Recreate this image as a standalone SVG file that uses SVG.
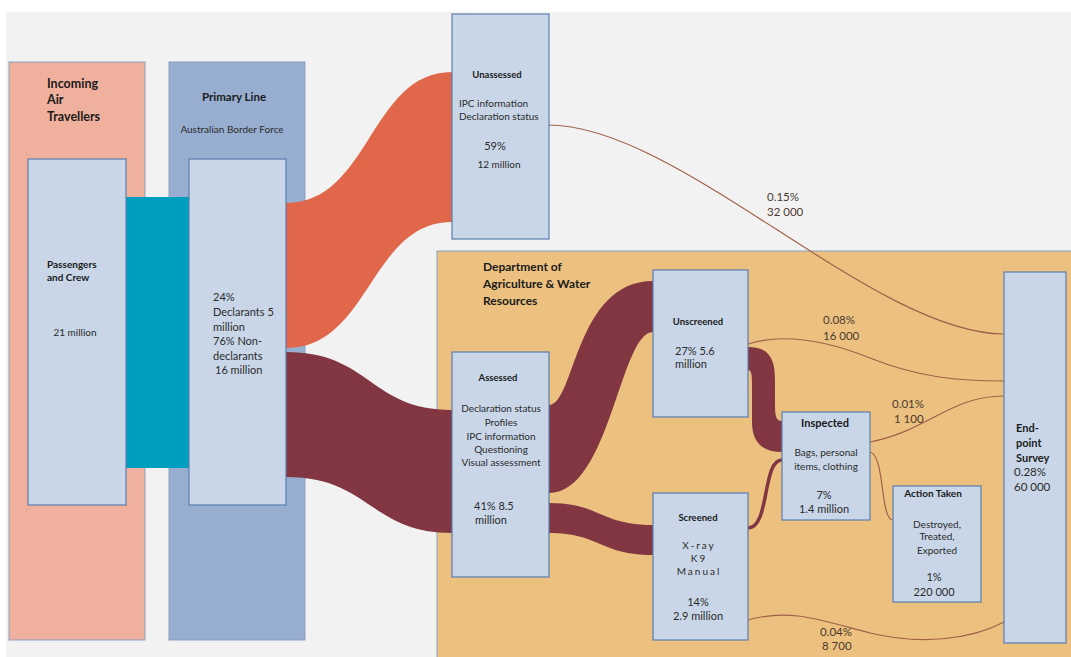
<svg xmlns="http://www.w3.org/2000/svg" width="1071" height="657" viewBox="0 0 1071 657">
<defs>
<style>
text{font-family:Lato,"Open Sans","Liberation Sans",sans-serif;fill:#2b2b2b;font-size:10px}
.b{font-weight:bold;fill:#1a1a1a}
.c{text-anchor:middle}
.box{fill:#c8d6e8;stroke:#5b7db0;stroke-width:1.2}
.cont{stroke:#8a9fc2;stroke-width:1}
.thin{fill:none;stroke:#a0604a;stroke-width:1.2}
.lbl{font-size:11.5px;fill:#4a3a30}
</style>
</defs>
<rect x="0" y="0" width="1071" height="657" fill="#ffffff"/>
<rect x="6" y="12" width="1065" height="645" fill="#f2f2f2"/>

<g id="incoming-air-travellers">
<rect class="cont" x="9" y="62" width="136" height="578" fill="#f0b09e"/>
<text class="b" x="47" y="88" style="font-size:12.5px">Incoming</text>
<text class="b" x="47" y="104" style="font-size:12.5px">Air</text>
<text class="b" x="47" y="121" style="font-size:12.5px">Travellers</text>
</g>

<g id="primary-line">
<rect class="cont" x="169" y="62" width="136" height="578" fill="#97aed0"/>
<text class="b c" x="234" y="101" style="font-size:11.5px">Primary Line</text>
<text class="c" x="232" y="133">Australian Border Force</text>
</g>

<g id="dept-agriculture">
<rect class="cont" x="437" y="251" width="640" height="410" fill="#ecc17f"/>
<text class="b" x="483" y="271" style="font-size:12px">Department of</text>
<text class="b" x="483" y="288" style="font-size:12px">Agriculture &amp; Water</text>
<text class="b" x="483" y="305" style="font-size:12px">Resources</text>
</g>

<g id="connectors">
<rect x="126" y="197" width="63" height="271" fill="#009fbf"/>
<path d="M286,203 C370,203 370,72 452,72 L452,222 C370,222 370,348 286,348 Z" fill="#e0674a"/>
<path d="M286,352 C370,352 370,410 452,410 L452,533 C370,533 370,477 286,477 Z" fill="#813642"/>
<path d="M549,405 C575,405 575,281 653,281 L653,332 C620,332 610,493 549,493 Z" fill="#813642"/>
<path d="M549,503 C600,503 600,525 653,525 L653,555 C600,555 600,533 549,533 Z" fill="#813642"/>
<path d="M748,347 C770,347 775,360 775,380 L775,405 C775,418 777,421 782,421 L782,452 C762,452 752,442 752,422 L752,390 C752,376 752,370 748,370 Z" fill="#813642"/>
<path d="M748,528 C770,528 762,460 782,460" fill="none" stroke="#813642" stroke-width="3.5"/>
<path class="thin" d="M548,125 C680,125 872,333 1004,334"/>
<path class="thin" d="M748,344 C780,334 820,338 870,358 C920,378 960,381 1004,381"/>
<path class="thin" d="M870,442 C930,430 950,396 1004,396"/>
<path class="thin" d="M870,452 C885,455 880,520 893,520"/>
<path class="thin" d="M748,620 C790,608 820,620 870,633 C920,645 970,640 1004,622"/>
<text class="lbl" x="767" y="201">0.15%</text>
<text class="lbl" x="767" y="216">32 000</text>
<text class="lbl" x="823" y="324">0.08%</text>
<text class="lbl" x="823" y="340">16 000</text>
<text class="lbl" x="892" y="408">0.01%</text>
<text class="lbl" x="894" y="423">1 100</text>
<text class="lbl" x="820" y="636">0.04%</text>
<text class="lbl" x="822" y="650">8 700</text>
</g>

<g id="passengers-and-crew">
<rect class="box" x="28" y="159" width="98" height="346"/>
<text class="b" x="47" y="268">Passengers</text>
<text class="b" x="47" y="281">and Crew</text>
<text class="c" x="75" y="336">21 million</text>
</g>

<g id="declarants">
<rect class="box" x="189" y="159" width="97" height="346"/>
<text x="213" y="301" style="font-size:11px">24%</text>
<text x="213" y="316" style="font-size:11px">Declarants 5</text>
<text x="213" y="331" style="font-size:11px">million</text>
<text x="213" y="345" style="font-size:11px">76% Non-</text>
<text x="213" y="360" style="font-size:11px">declarants</text>
<text x="215" y="374" style="font-size:11px">16 million</text>
</g>

<g id="unassessed">
<rect class="box" x="452" y="14" width="97" height="225"/>
<text class="b c" x="497" y="78" style="font-size:9.5px">Unassessed</text>
<text x="459" y="107">IPC information</text>
<text x="459" y="120">Declaration status</text>
<text class="c" x="495" y="150" style="font-size:11px">59%</text>
<text class="c" x="499" y="168">12 million</text>
</g>

<g id="assessed">
<rect class="box" x="452" y="352" width="97" height="225"/>
<text class="b c" x="498" y="381" style="font-size:9.5px">Assessed</text>
<text class="c" x="501" y="412">Declaration status</text>
<text class="c" x="501" y="426">Profiles</text>
<text class="c" x="501" y="440">IPC information</text>
<text class="c" x="501" y="453">Questioning</text>
<text class="c" x="501" y="466">Visual assessment</text>
<text x="474" y="510" style="font-size:11px">41% 8.5</text>
<text x="475" y="524" style="font-size:11px">million</text>
</g>

<g id="unscreened">
<rect class="box" x="653" y="270" width="95" height="147"/>
<text class="b c" x="698" y="325" style="font-size:9.5px">Unscreened</text>
<text x="675" y="355" style="font-size:11px">27% 5.6</text>
<text x="675" y="368" style="font-size:11px">million</text>
</g>

<g id="screened">
<rect class="box" x="653" y="493" width="95" height="147"/>
<text class="b c" x="698" y="521" style="font-size:9.5px">Screened</text>
<text class="c" x="699" y="549" style="letter-spacing:2px">X-ray</text>
<text class="c" x="699" y="562" style="letter-spacing:2px">K9</text>
<text class="c" x="699" y="575" style="letter-spacing:2px">Manual</text>
<text class="c" x="698" y="606" style="font-size:11px">14%</text>
<text class="c" x="698" y="620" style="font-size:11px">2.9 million</text>
</g>

<g id="inspected">
<rect class="box" x="782" y="412" width="88" height="108"/>
<text class="b c" x="825" y="427" style="font-size:11px">Inspected</text>
<text class="c" x="826" y="456">Bags, personal</text>
<text class="c" x="826" y="470">items, clothing</text>
<text class="c" x="824" y="499" style="font-size:11px">7%</text>
<text class="c" x="824" y="513" style="font-size:11px">1.4 million</text>
</g>

<g id="action-taken">
<rect class="box" x="893" y="486" width="88" height="116"/>
<text class="b c" x="933" y="497">Action Taken</text>
<text class="c" x="937" y="528">Destroyed,</text>
<text class="c" x="937" y="540">Treated,</text>
<text class="c" x="937" y="554">Exported</text>
<text class="c" x="934" y="581" style="font-size:11px">1%</text>
<text class="c" x="934" y="596" style="font-size:11px">220 000</text>
</g>

<g id="end-point-survey">
<rect class="box" x="1004" y="272" width="62" height="371"/>
<text class="b" x="1016" y="432" style="font-size:11px">End-</text>
<text class="b" x="1016" y="447" style="font-size:11px">point</text>
<text class="b" x="1016" y="462" style="font-size:11px">Survey</text>
<text x="1014" y="476" style="font-size:11.5px">0.28%</text>
<text x="1014" y="491" style="font-size:11.5px">60 000</text>
</g>
</svg>
